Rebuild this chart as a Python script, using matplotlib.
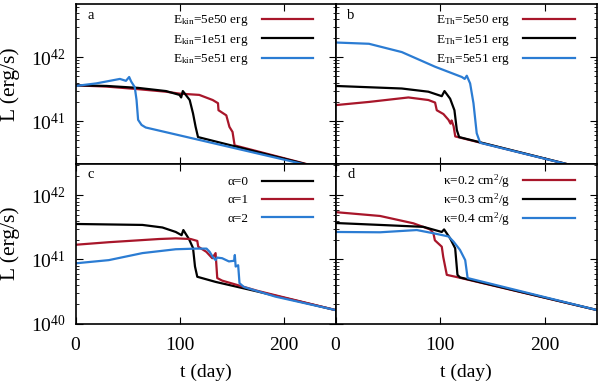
import numpy as np
import matplotlib
matplotlib.use("Agg")
import matplotlib.pyplot as plt
from matplotlib.ticker import LogLocator, NullFormatter

plt.rcParams['font.family'] = ['Liberation Serif', 'DejaVu Serif']
plt.rcParams['mathtext.fontset'] = 'custom'
plt.rcParams['mathtext.rm'] = 'Liberation Serif'
plt.rcParams['mathtext.it'] = 'Liberation Serif:italic'

RED = '#a8162a'
BLACK = '#000000'
BLUE = '#2b7cd3'

# panel a: kinetic energy (t in days, log10 L in erg/s)
t_a_red = [0, 30, 60, 87, 100, 119, 131.9, 137, 137.5, 145, 148, 151, 153, 250]
l_a_red = [41.56, 41.54, 41.50, 41.46, 41.43, 41.41, 41.33, 41.28, 41.17, 41.09, 40.91, 40.83, 40.62, 40.21]
t_a_black = [0, 30, 60, 87, 100, 101.6, 103.2, 109.8, 113, 115.5, 117.8, 250]
l_a_black = [41.56, 41.55, 41.52, 41.47, 41.41, 41.37, 41.47, 41.33, 41.12, 40.91, 40.75, 40.21]
t_a_blue = [0, 20, 42.7, 48.5, 51.6, 53.5, 57, 58.7, 60.2, 63.5, 67.5, 250]
l_a_blue = [41.55, 41.59, 41.66, 41.63, 41.69, 41.62, 41.53, 41.33, 41.02, 40.94, 40.90, 40.21]

# panel b: thermal energy
t_b_red = [0, 32, 69.7, 88.8, 95.2, 96.8, 103.2, 108, 110, 111, 112.9, 114.5, 117, 250]
l_b_red = [41.25, 41.30, 41.37, 41.33, 41.29, 41.17, 41.11, 41.02, 40.96, 41.01, 40.92, 40.76, 40.75, 40.21]
t_b_black = [0, 63.4, 88.8, 101.6, 104.2, 109.6, 113.7, 116, 118.2, 250]
l_b_black = [41.55, 41.51, 41.46, 41.39, 41.47, 41.35, 41.17, 40.86, 40.75, 40.21]
t_b_blue = [0, 32, 63.4, 95.3, 120.8, 123.5, 125.5, 128.7, 131.9, 135, 138.3, 250]
l_b_blue = [42.23, 42.21, 42.08, 41.85, 41.69, 41.66, 41.71, 41.59, 41.28, 40.81, 40.66, 40.21]

# panel c: alpha
t_c_black = [0, 64.4, 83.6, 96.4, 102, 103.7, 109.1, 113, 114.9, 117.1, 134.7, 175, 250]
l_c_black = [41.555, 41.54, 41.50, 41.43, 41.38, 41.46, 41.32, 41.18, 40.89, 40.73, 40.65, 40.50, 40.21]
t_c_red = [0, 32, 80.4, 96.4, 110.7, 117.1, 118, 125.8, 131.5, 134.7, 136.3, 141, 175, 250]
l_c_red = [41.23, 41.27, 41.32, 41.33, 41.32, 41.29, 41.20, 41.12, 41.02, 41.10, 40.71, 40.67, 40.51, 40.21]
t_c_blue = [0, 32, 64.4, 96.4, 116, 126, 129, 132, 134.7, 136, 141, 147.5, 152.5, 153.2, 154,
            156.4, 157.7, 161.9, 192.2, 250]
l_c_blue = [40.94, 40.99, 41.10, 41.16, 41.17, 41.17, 41.12, 41.04, 40.99, 41.03, 41.02, 40.97, 40.98, 41.07, 40.89,
            40.91, 40.63, 40.57, 40.42, 40.21]

# panel d: opacity
t_d_red = [0, 42.6, 74.5, 90.4, 93.6, 95, 101.6, 103, 106.4, 117.5, 250]
l_d_red = [41.74, 41.68, 41.565, 41.47, 41.41, 41.30, 41.20, 41.04, 40.76, 40.72, 40.21]
t_d_black = [0, 42.6, 84, 101.6, 103.8, 109.6, 114.4, 116.6, 119, 250]
l_d_black = [41.57, 41.54, 41.51, 41.43, 41.47, 41.33, 41.175, 40.76, 40.72, 40.21]
t_d_blue = [0, 42.6, 77.7, 93.6, 108, 112.8, 119, 124, 126.3, 250]
l_d_blue = [41.43, 41.425, 41.46, 41.41, 41.36, 41.28, 41.15, 40.99, 40.71, 40.21]

fig = plt.figure(figsize=(6.0, 3.83), dpi=100)
x0, xm, x1 = 75.5 / 600, 335.5 / 600, 597 / 600
yb, ym, yt = 1 - 323.5 / 383, 1 - 163.5 / 383, 1 - 4 / 383
ax_a = fig.add_axes([x0, ym, xm - x0, yt - ym])
ax_b = fig.add_axes([xm, ym, x1 - xm, yt - ym])
ax_c = fig.add_axes([x0, yb, xm - x0, ym - yb])
ax_d = fig.add_axes([xm, yb, x1 - xm, ym - yb])

# (axes, tag, legend spacing, legend top anchor, curves)
panels = [
    (ax_a, 'a', 0.35, 1.0,
     [(t_a_red, l_a_red, RED, r'E$_{\mathrm{kin}}$=5e50 erg'),
      (t_a_black, l_a_black, BLACK, r'E$_{\mathrm{kin}}$=1e51 erg'),
      (t_a_blue, l_a_blue, BLUE, r'E$_{\mathrm{kin}}$=5e51 erg')]),
    (ax_b, 'b', 0.35, 1.0,
     [(t_b_red, l_b_red, RED, r'E$_{\mathrm{Th}}$=5e50 erg'),
      (t_b_black, l_b_black, BLACK, r'E$_{\mathrm{Th}}$=1e51 erg'),
      (t_b_blue, l_b_blue, BLUE, r'E$_{\mathrm{Th}}$=5e51 erg')]),
    (ax_c, 'c', 0.45, 0.98,
     [(t_c_black, l_c_black, BLACK, 'α=0'),
      (t_c_red, l_c_red, RED, 'α=1'),
      (t_c_blue, l_c_blue, BLUE, 'α=2')]),
    (ax_d, 'd', 0.08, 1.0,
     [(t_d_red, l_d_red, RED, r'κ=0.2 cm$^{2}$/g'),
      (t_d_black, l_d_black, BLACK, r'κ=0.3 cm$^{2}$/g'),
      (t_d_blue, l_d_blue, BLUE, r'κ=0.4 cm$^{2}$/g')]),
]

for ax, tag, spacing, ytop, curves in panels:
    for t, logl, col, lab in curves:
        ax.plot(t, 10 ** np.array(logl), color=col, lw=1.6, label=lab)
    ax.set_yscale('log')
    ax.set_xlim(0, 250)
    ax.set_xticks([0, 100, 200])
    ax.yaxis.set_major_locator(LogLocator(base=10))
    ax.yaxis.set_minor_locator(LogLocator(base=10, subs=np.arange(2, 10)))
    ax.yaxis.set_minor_formatter(NullFormatter())
    ax.tick_params(which='both', direction='in', top=True, right=True, labelsize=14)
    ax.tick_params(axis='x', which='major', pad=10)
    ax.tick_params(axis='y', which='major', pad=7)
    ax.tick_params(which='major', length=5, width=0.8)
    ax.tick_params(which='minor', length=2.5, width=0.6)
    for s in ax.spines.values():
        s.set_linewidth(1.2)
    ax.text(0.045, 0.97, tag, transform=ax.transAxes, fontsize=10.5, va='top', ha='left')
    ax.legend(loc='upper right', markerfirst=False, frameon=False, fontsize=9.5,
              handlelength=3.9, handletextpad=1.0, labelspacing=spacing,
              borderaxespad=0.3, bbox_to_anchor=(0.95, ytop))

for ax in (ax_a, ax_b):
    ax.set_ylim(2.17e40, 6.8e42)
    ax.tick_params(labelbottom=False)
for ax in (ax_c, ax_d):
    ax.set_ylim(1e40, 3.16e42)
    ax.set_xlabel('t (day)', fontsize=14, labelpad=7)
for ax in (ax_b, ax_d):
    ax.tick_params(labelleft=False)
ax_a.set_ylabel('L (erg/s)', fontsize=15.5, labelpad=8)
ax_c.set_ylabel('L (erg/s)', fontsize=15.5, labelpad=8)

fig.savefig('out.png', dpi=100)
